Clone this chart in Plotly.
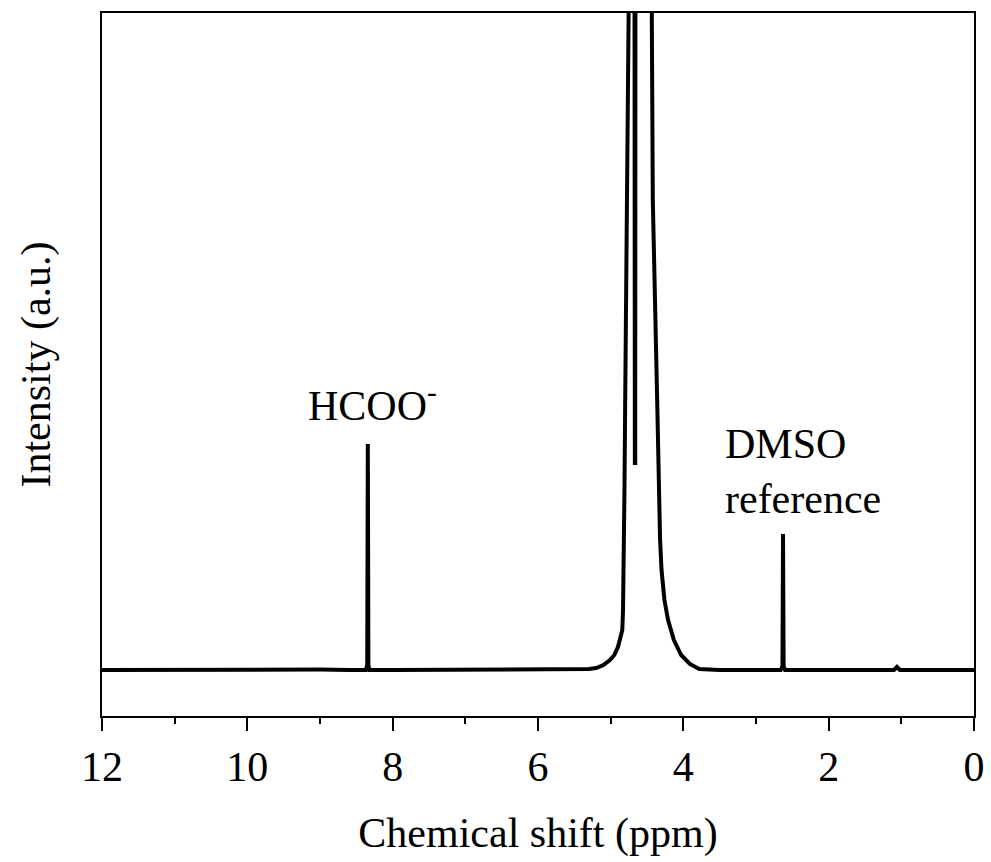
import plotly.graph_objects as go

# Spectrum: chemical shift (ppm) and intensity (a.u., baseline = 0)
shift_ppm = [12.0, 11.0, 10.0, 9.0, 8.6, 8.37, 8.35, 8.342, 8.334, 8.32, 8.0, 7.0, 6.0, 5.6, 5.3, 5.2, 5.1,
             5.01, 4.95, 4.90, 4.86, 4.84, 4.83, 4.82, 4.81, 4.80, 4.77, 4.75, 4.72, 4.68,
             4.667, 4.662, 4.655, 4.6, 4.5, 4.46, 4.44, 4.42, 4.36, 4.34, 4.32, 4.30, 4.26, 4.21,
             4.13, 4.03, 3.91, 3.78, 3.5, 3.0, 2.66, 2.636, 2.628, 2.620, 2.60, 2.0, 1.1, 1.06, 1.02, 0.5, 0.0]
intensity = [0.0, 0.005, 0.0, 0.005, 0.0, 0.0, 0.05, 2.26, 0.05, 0.0, 0.0, 0.0, 0.0, 0.005, 0.01, 0.02, 0.05,
             0.10, 0.15, 0.23, 0.33, 0.40, 0.60, 1.03, 1.80, 2.70, 4.70, 6.80, 12.0, 15.0,
             2.07, 2.07, 15.0, 25.0, 20.0, 10.0, 6.57, 4.70, 2.70, 1.90, 1.30, 1.00, 0.70, 0.50,
             0.30, 0.15, 0.06, 0.01, 0.0, 0.0, 0.0, 0.04, 1.36, 0.04, 0.0, 0.0, 0.0, 0.03, 0.0, 0.0, 0.0]

x_ticks = [12, 10, 8, 6, 4, 2, 0]
x_tick_text = ["12", "10", "8", "6", "4", "2", "0"]

FONT = "Liberation Serif, Times New Roman, serif"

fig = go.Figure()
fig.add_trace(go.Scatter(
    x=shift_ppm, y=intensity, mode="lines",
    line=dict(color="black", width=4),
    showlegend=False, hoverinfo="skip",
))

fig.add_annotation(x=9.19, y=2.68, xref="x", yref="y", text="HCOO<sup>-</sup>",
                   showarrow=False, xanchor="left", yanchor="middle",
                   font=dict(family=FONT, size=42, color="black"))
fig.add_annotation(x=3.454, y=1.99, xref="x", yref="y", text="DMSO<br>reference",
                   showarrow=False, xanchor="left", yanchor="middle", align="left",
                   font=dict(family=FONT, size=42, color="black"))

fig.update_layout(
    width=991, height=862,
    margin=dict(l=102, r=17, t=13, b=146),
    paper_bgcolor="white", plot_bgcolor="white",
    font=dict(family=FONT, size=42, color="black"),
    xaxis=dict(
        range=[12, 0], tickmode="array", tickvals=x_ticks, ticktext=x_tick_text,
        ticks="outside", ticklen=13, tickwidth=2, tickcolor="black",
        minor=dict(dtick=1, ticks="outside", ticklen=6, tickwidth=2, tickcolor="black", showgrid=False),
        showline=True, linecolor="black", linewidth=2, mirror=True,
        showgrid=False, zeroline=False,
        tickfont=dict(family=FONT, size=42, color="black"),
        title=dict(text="Chemical shift (ppm)", font=dict(family=FONT, size=42, color="black"), standoff=28),
        automargin=False,
    ),
    yaxis=dict(
        range=[-0.46, 6.57], showticklabels=False, ticks="",
        showline=True, linecolor="black", linewidth=2, mirror=True,
        showgrid=False, zeroline=False,
        title=dict(text="Intensity (a.u.)", font=dict(family=FONT, size=42, color="black"), standoff=36),
        automargin=False,
    ),
)

fig.write_html("out.html")
